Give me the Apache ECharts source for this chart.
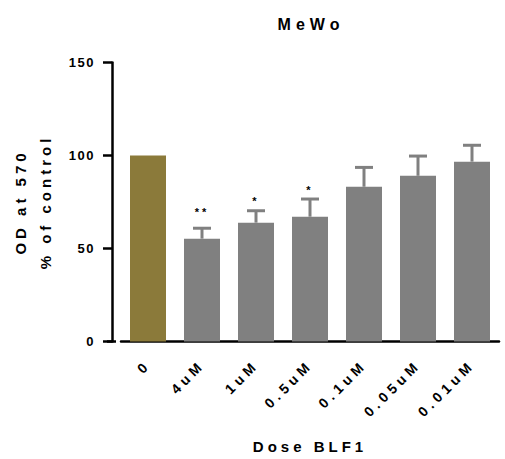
<!DOCTYPE html>
<html>
<head>
<meta charset="utf-8">
<script src="https://cdn.jsdelivr.net/npm/echarts@6/dist/echarts.min.js"></script>
<style>
html,body{margin:0;padding:0;background:#fff;}
#chart{width:505px;height:459px;}
#chart text[style*="lsT"]{letter-spacing:5px;}
#chart text[style*="lsN"]{letter-spacing:4px;}
#chart text[style*="lsX"]{letter-spacing:4.3px;}
#chart text[style*="lsY"]{letter-spacing:1.5px;}
#chart text[style*="lsS"]{letter-spacing:3px;}
</style>
</head>
<body>
<div id="chart"></div>
<script>
// ---- data ----
const titleText = 'MeWo';
const categories = ['0', '4uM', '1uM', '0.5uM', '0.1uM', '0.05uM', '0.01uM'];
const means = [100, 55.3, 63.9, 67.1, 83.2, 89.1, 96.7];
const errors = [0, 5.6, 6.4, 9.5, 10.4, 10.6, 8.8];
const starText = ['', '**', '*', '*', '', '', ''];
const starPos = [null, 71.4, 77.0, 82.9, null, null, null];
const yTicks = { min: 0, max: 150, interval: 50 };
const yName = 'OD at 570\n% of control';
const xName = 'Dose BLF1';

// ---- styles ----
const barColors = ['#8b7a3a', '#808080', '#808080', '#808080', '#808080', '#808080', '#808080'];
const gridLeft = 116, yOffset = 9;

const chart = echarts.init(document.getElementById('chart'), null, { renderer: 'svg' });

const barData = means.map((v, i) => ({ value: v, itemStyle: { color: barColors[i] } }));
const errData = means.map((v, i) => [i, v, v + errors[i]]);
const starData = starPos.map((v, i) => [i, v, starText[i]]).filter(d => d[1] != null);

chart.setOption({
  animation: false,
  title: {
    text: titleText,
    left: 306, top: 11, textAlign: 'center',
    textStyle: { fontFamily: 'Liberation Sans, lsT', fontWeight: 'bold', fontSize: 16, color: '#000' }
  },
  grid: { left: gridLeft, right: 6, top: 62.5, bottom: 117.5 },
  xAxis: {
    type: 'category',
    data: categories,
    axisLine: { lineStyle: { color: '#000', width: 2.5 } },
    axisTick: { alignWithLabel: true, length: 7, lineStyle: { color: '#000', width: 2.5 } },
    axisLabel: {
      rotate: 45, margin: 21, color: '#000', fontWeight: 'bold', fontSize: 14,
      fontFamily: 'Liberation Sans, lsX', interval: 0
    },
    name: xName, nameLocation: 'middle', nameGap: 97,
    nameTextStyle: { fontFamily: 'Liberation Sans, lsN', fontWeight: 'bold', fontSize: 15, color: '#000' }
  },
  yAxis: {
    type: 'value',
    min: yTicks.min, max: yTicks.max, interval: yTicks.interval,
    offset: yOffset,
    axisLine: { show: true, lineStyle: { color: '#000', width: 2.5 } },
    axisTick: { show: true, length: 9, lineStyle: { color: '#000', width: 2.5 } },
    splitLine: { show: false },
    axisLabel: { margin: 17, color: '#000', fontWeight: 'bold', fontSize: 13, fontFamily: 'Liberation Sans, lsY' },
    name: yName, nameLocation: 'middle', nameRotate: 90, nameGap: 54,
    nameTextStyle: { fontFamily: 'Liberation Sans, lsN', fontWeight: 'bold', fontSize: 15, color: '#000', lineHeight: 25, align: 'center' }
  },
  graphic: [{
    type: 'line', z: 10,
    shape: { x1: gridLeft - yOffset, y1: 341.5, x2: gridLeft, y2: 341.5 },
    style: { stroke: '#000', lineWidth: 2.5 }
  }],
  series: [
    {
      type: 'bar', data: barData, barWidth: 36, z: 2
    },
    {
      type: 'custom', z: 1,
      data: errData,
      renderItem: function (params, api) {
        const i = api.value(0);
        const base = api.coord([i, api.value(1)]);
        const top = api.coord([i, api.value(2)]);
        if (api.value(2) <= api.value(1)) return null;
        return {
          type: 'group',
          children: [
            { type: 'line', shape: { x1: base[0], y1: base[1], x2: top[0], y2: top[1] }, style: { stroke: '#808080', lineWidth: 3 } },
            { type: 'line', shape: { x1: top[0] - 9, y1: top[1], x2: top[0] + 9, y2: top[1] }, style: { stroke: '#808080', lineWidth: 3 } }
          ]
        };
      }
    },
    {
      type: 'custom', z: 3,
      data: starData,
      renderItem: function (params, api) {
        const p = api.coord([api.value(0), api.value(1)]);
        return {
          type: 'text',
          style: {
            x: p[0], y: p[1] + 3, text: starText[api.value(0)],
            align: 'center', verticalAlign: 'middle',
            fontFamily: 'Liberation Sans, lsS', fontSize: 11, fontWeight: 'bold', fill: '#000'
          }
        };
      }
    }
  ]
});
</script>
</body>
</html>
